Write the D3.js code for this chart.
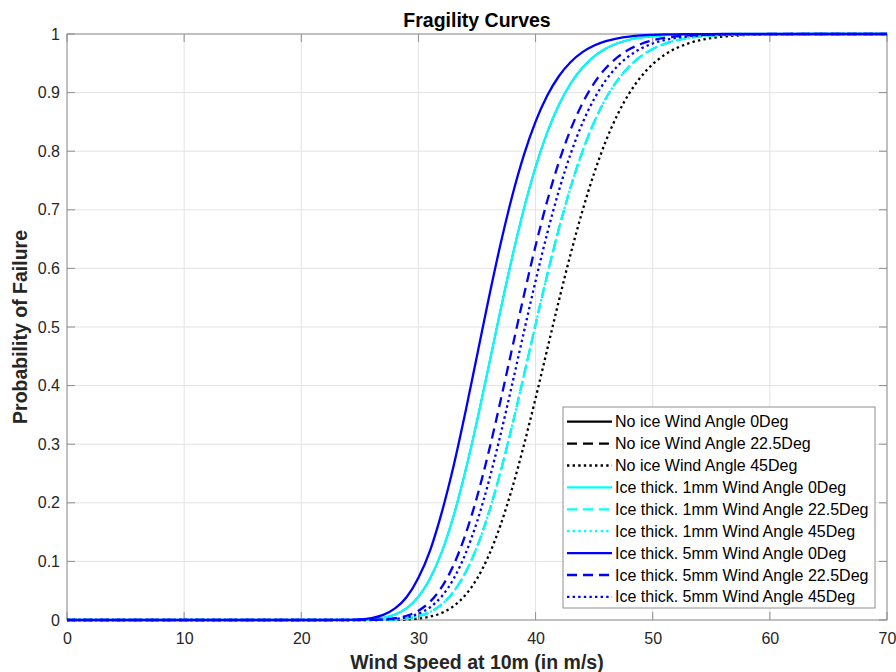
<!DOCTYPE html>
<html><head><meta charset="utf-8">
<script src="https://cdn.jsdelivr.net/npm/d3@7/dist/d3.min.js"></script>
<style>
body{margin:0;background:#fff}
svg{display:block}
text{font-family:"Liberation Sans",Arial,Helvetica,sans-serif}
</style>
</head><body>
<svg id="chart" width="896" height="672"></svg>
<script>
// ---- data ----
const windSpeed = [0,10,20,22,23,24,25,26,27,28,29,30,31,32,33,34,35,36,37,38,39,40,41,42,43,44,45,46,47,48,49,50,51,52,53,54,55,56,57,58,60,65,70];

const noIce0   = [0,0,0,0,0,0.0001,0.0004,0.0013,0.0038,0.0093,0.0203,0.0398,0.0711,0.1166,0.1777,0.2534,0.3398,0.4333,0.5281,0.6189,0.7015,0.7730,0.8324,0.8796,0.9157,0.9426,0.9619,0.9752,0.9842,0.9902,0.9940,0.9964,0.9979,0.9988,0.9993,0.9996,0.9998,0.9999,1,1,1,1,1];
const noIce22  = [0,0,0,0,0,0,0,0.0001,0.0003,0.0010,0.0027,0.0064,0.0137,0.0268,0.0483,0.0805,0.1249,0.1825,0.2524,0.3318,0.4173,0.5044,0.5894,0.6686,0.7389,0.7995,0.8498,0.8900,0.9212,0.9448,0.9621,0.9745,0.9831,0.9891,0.9930,0.9956,0.9973,0.9983,0.9990,0.9994,0.9998,1,1];
const noIce45  = [0,0,0,0,0,0,0,0,0.0001,0.0003,0.0009,0.0025,0.0058,0.0122,0.0237,0.0424,0.0705,0.1099,0.1616,0.2248,0.2981,0.3783,0.4622,0.5458,0.6251,0.6981,0.7625,0.8174,0.8627,0.8989,0.9271,0.9485,0.9643,0.9757,0.9837,0.9893,0.9930,0.9956,0.9972,0.9983,0.9994,1,1];
const ice1mm0  = [0,0,0,0,0,0.0001,0.0004,0.0013,0.0038,0.0093,0.0203,0.0398,0.0711,0.1166,0.1777,0.2534,0.3398,0.4333,0.5281,0.6189,0.7015,0.7730,0.8324,0.8796,0.9157,0.9426,0.9619,0.9752,0.9842,0.9902,0.9940,0.9964,0.9979,0.9988,0.9993,0.9996,0.9998,0.9999,1,1,1,1,1];
const ice1mm22 = [0,0,0,0,0,0,0,0.0001,0.0003,0.0010,0.0027,0.0064,0.0137,0.0268,0.0483,0.0805,0.1249,0.1825,0.2524,0.3318,0.4173,0.5044,0.5894,0.6686,0.7389,0.7995,0.8498,0.8900,0.9212,0.9448,0.9621,0.9745,0.9831,0.9891,0.9930,0.9956,0.9973,0.9983,0.9990,0.9994,0.9998,1,1];
const ice1mm45 = [0,0,0,0,0,0,0,0.0001,0.0003,0.0010,0.0027,0.0064,0.0137,0.0268,0.0483,0.0805,0.1249,0.1825,0.2524,0.3318,0.4173,0.5044,0.5894,0.6686,0.7389,0.7995,0.8498,0.8900,0.9212,0.9448,0.9621,0.9745,0.9831,0.9891,0.9930,0.9956,0.9973,0.9983,0.9990,0.9994,0.9998,1,1];
const ice5mm0  = [0,0,0,0,0.0001,0.0003,0.0011,0.0034,0.0087,0.0197,0.0392,0.0721,0.1190,0.1841,0.2627,0.3538,0.4510,0.5486,0.6406,0.7231,0.7933,0.8504,0.8949,0.9283,0.9522,0.9690,0.9804,0.9879,0.9927,0.9957,0.9975,0.9985,0.9992,0.9995,0.9998,0.9999,0.9999,1,1,1,1,1,1];
const ice5mm22 = [0,0,0,0,0,0,0.0001,0.0003,0.0011,0.0030,0.0073,0.0159,0.0313,0.0564,0.0937,0.1450,0.2098,0.2871,0.3732,0.4636,0.5536,0.6386,0.7155,0.7821,0.8373,0.8817,0.9161,0.9418,0.9605,0.9738,0.9830,0.9891,0.9932,0.9958,0.9975,0.9985,0.9991,0.9995,0.9997,0.9998,1,1,1];
const ice5mm45 = [0,0,0,0,0,0,0,0.0002,0.0006,0.0018,0.0047,0.0106,0.0217,0.0407,0.0701,0.1122,0.1675,0.2361,0.3156,0.4021,0.4913,0.5785,0.6602,0.7334,0.7959,0.8478,0.8892,0.9212,0.9453,0.9628,0.9751,0.9838,0.9896,0.9934,0.9959,0.9975,0.9985,0.9991,0.9995,0.9997,0.9999,1,1];

const seriesLabels = [
  "No ice Wind Angle 0Deg","No ice Wind Angle 22.5Deg","No ice Wind Angle 45Deg",
  "Ice thick. 1mm Wind Angle 0Deg","Ice thick. 1mm Wind Angle 22.5Deg","Ice thick. 1mm Wind Angle 45Deg",
  "Ice thick. 5mm Wind Angle 0Deg","Ice thick. 5mm Wind Angle 22.5Deg","Ice thick. 5mm Wind Angle 45Deg"
];
const seriesValues = [noIce0,noIce22,noIce45,ice1mm0,ice1mm22,ice1mm45,ice5mm0,ice5mm22,ice5mm45];
const xTicks = [0,10,20,30,40,50,60,70];
const yTicks = [0,0.1,0.2,0.3,0.4,0.5,0.6,0.7,0.8,0.9,1];
const yTickLabels = ["0","0.1","0.2","0.3","0.4","0.5","0.6","0.7","0.8","0.9","1"];

// ---- styles ----
const colors = ["#000000","#000000","#000000","#00FFFF","#00FFFF","#00FFFF","#0000FF","#0000FF","#0000FF"];
const dashes = [null,"10,6","2.4,3.2",null,"10,6","2.4,3.2",null,"10,6","2.4,3.2"];
// lines fully covered by later identical curves are drawn slightly thinner (no antialias halo)
const plotWidths = [1.6,1.6,2.3,2.3,2.3,2.3,2.3,2.3,2.3];

const svg = d3.select("#chart");
const L = 67, R = 887, T = 34, B = 620;
const x = d3.scaleLinear().domain([0,70]).range([L,R]);
const y = d3.scaleLinear().domain([0,1]).range([B,T]);
const axisColor = "#262626";
const lineGray = "#8f8f8f";

// grid
const g = svg.append("g");
g.selectAll("line.gx").data(xTicks).join("line")
  .attr("x1",d=>x(d)).attr("x2",d=>x(d)).attr("y1",T).attr("y2",B)
  .attr("stroke","#e3e3e3").attr("stroke-width",1);
g.selectAll("line.gy").data(yTicks).join("line")
  .attr("y1",d=>y(d)).attr("y2",d=>y(d)).attr("x1",L).attr("x2",R)
  .attr("stroke","#e3e3e3").attr("stroke-width",1);

// axes with ticks on all sides
const tickLen = 8;
const xb = d3.axisBottom(x).tickValues(xTicks).tickSize(0).tickPadding(13).tickFormat(d3.format("d"));
const yl = d3.axisLeft(y).tickValues(yTicks).tickSize(0).tickPadding(7).tickFormat((d,i)=>yTickLabels[i]);
const gx = svg.append("g").attr("transform",`translate(0,${B})`).call(xb);
const gy = svg.append("g").attr("transform",`translate(${L},0)`).call(yl);
[gx,gy].forEach(a=>{
  a.select(".domain").remove();
  a.selectAll("text").attr("font-size",16).attr("fill",axisColor).attr("font-family",'"Liberation Sans",Arial,sans-serif');
});
const tk = svg.append("g").attr("stroke",lineGray).attr("stroke-width",1);
xTicks.forEach(v=>{
  tk.append("line").attr("x1",x(v)).attr("x2",x(v)).attr("y1",B).attr("y2",B-tickLen);
  tk.append("line").attr("x1",x(v)).attr("x2",x(v)).attr("y1",T).attr("y2",T+tickLen);
});
yTicks.forEach(v=>{
  tk.append("line").attr("y1",y(v)).attr("y2",y(v)).attr("x1",L).attr("x2",L+tickLen);
  tk.append("line").attr("y1",y(v)).attr("y2",y(v)).attr("x1",R).attr("x2",R-tickLen);
});
svg.append("rect").attr("x",L).attr("y",T).attr("width",R-L).attr("height",B-T)
  .attr("fill","none").attr("stroke",lineGray).attr("stroke-width",1);

// curves
const line = d3.line().x((d,i)=>x(windSpeed[i])).y(d=>y(d)).curve(d3.curveMonotoneX);
svg.append("g").selectAll("path").data(seriesValues).join("path")
  .attr("d",d=>line(d))
  .attr("fill","none")
  .attr("stroke",(d,i)=>colors[i])
  .attr("stroke-width",(d,i)=>plotWidths[i])
  .attr("stroke-dasharray",(d,i)=>dashes[i]);

// title & labels
svg.append("text").attr("x",(L+R)/2).attr("y",27).attr("text-anchor","middle")
  .attr("font-size",19.5).attr("font-weight","bold").attr("fill","#000").text("Fragility Curves");
svg.append("text").attr("x",(L+R)/2).attr("y",669).attr("text-anchor","middle")
  .attr("font-size",19.5).attr("font-weight","bold").attr("fill",axisColor).text("Wind Speed at 10m (in m/s)");
svg.append("text").attr("transform",`translate(27,${(T+B)/2}) rotate(-90)`).attr("text-anchor","middle")
  .attr("font-size",19.5).attr("font-weight","bold").attr("fill",axisColor).text("Probability of Failure");

// legend
const lgX = 563, lgY = 407, lgW = 312, lgH = 201, rowH = 21.9;
const lg = svg.append("g");
lg.append("rect").attr("x",lgX).attr("y",lgY).attr("width",lgW).attr("height",lgH)
  .attr("fill","#fff").attr("stroke",lineGray).attr("stroke-width",1);
seriesLabels.forEach((lab,i)=>{
  const cy = lgY + 14.7 + i*rowH;
  lg.append("line").attr("x1",lgX+4).attr("x2",lgX+49).attr("y1",cy).attr("y2",cy)
    .attr("stroke",colors[i]).attr("stroke-width",2.3).attr("stroke-dasharray",dashes[i]);
  lg.append("text").attr("x",lgX+52).attr("y",cy+5.5).attr("font-size",16).attr("fill","#000").text(lab);
});
</script>
</body></html>
